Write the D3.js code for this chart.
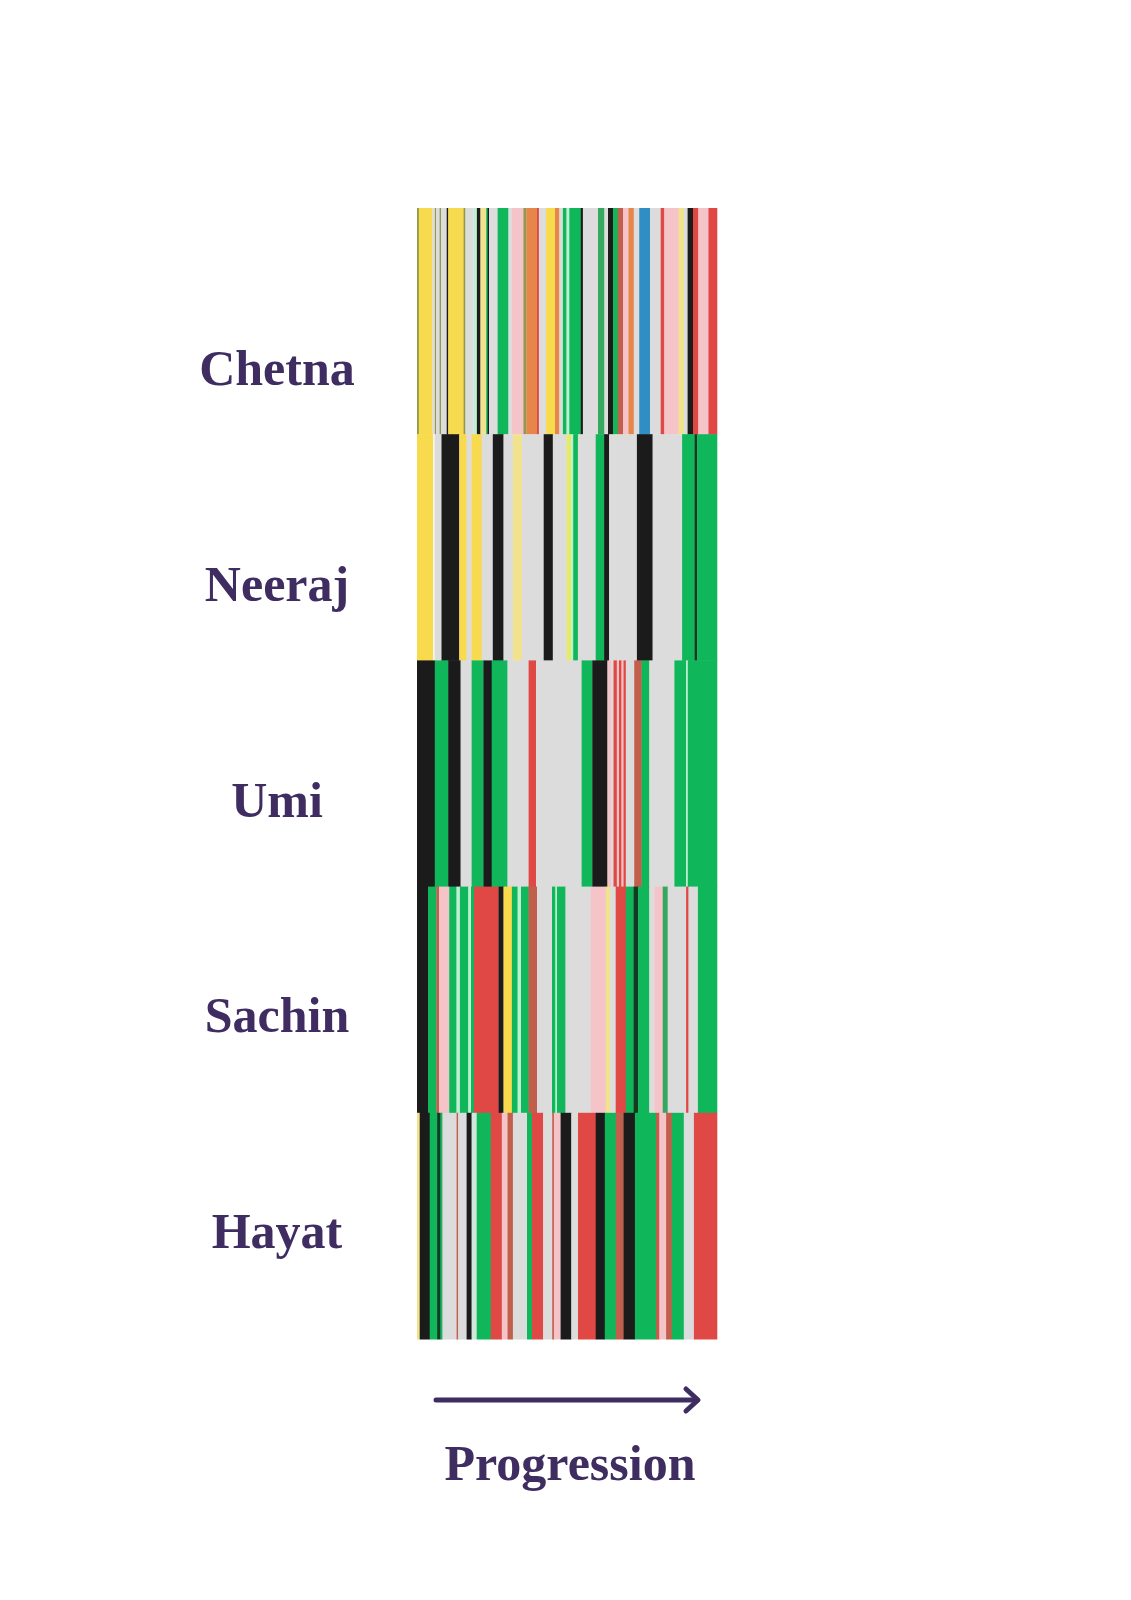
<!DOCTYPE html>
<html>

<head>
    <meta charset="UTF-8">
    <title>Progression</title>
    <style>
        body {
            margin: 0;
            background: #fff;
        }

        .label {
            font-family: 'Liberation Serif', serif;
            font-weight: bold;
            font-size: 50px;
            fill: #3f2d62;
            text-anchor: middle;
        }

        .arrow {
            fill: none;
            stroke: #3f2d62;
            stroke-width: 5px;
            stroke-linecap: round;
            stroke-linejoin: round;
        }
    </style>
</head>

<body>
    <div class="chart"></div>

    <script src="https://cdn.jsdelivr.net/npm/d3@7"></script>

    <script>
        // people, top to bottom
        const people = ['Chetna', 'Neeraj', 'Umi', 'Sachin', 'Hayat'];

        // each row: state of each segment, and how long it lasts along the progression
        const chetnaStates = ['olive', 'yellow', 'gray', 'olive', 'gray', 'olive', 'gray', 'black', 'yellow', 'olive',
            'gray', 'mint', 'black', 'paleyellow', 'green', 'black', 'gray', 'green', 'gray', 'pink', 'olive', 'orange',
            'red', 'gray', 'yellow', 'orange', 'gray', 'green', 'mint', 'green', 'black', 'gray', 'midgreen', 'gray',
            'black', 'green', 'brownred', 'pink', 'orange', 'gray', 'blue', 'gray', 'red', 'pink', 'paleyellow', 'gray',
            'black', 'red', 'pink', 'red'
        ];
        const chetnaLengths = [1.8, 13.6, 2.5, 1.1, 3.6, 1.4, 5.7, 1.5, 15.4, 1.8,
            7.9, 3.6, 3.5, 5.8, 1.4, 1.4, 8.6, 10.8, 3.6, 11.4, 2.9, 10.7,
            1.9, 7.1, 9, 4.3, 3.6, 3.6, 2.8, 11.5, 2.1, 15.1, 6.4, 3.6,
            5, 4.7, 5.3, 5.5, 5.3, 5.4, 10.8, 10.7, 3.6, 14.3, 5.4, 3.6,
            5.4, 5.3, 10.1, 8.6
        ];

        const neerajStates = ['yellow', 'white', 'gray', 'black', 'yellow', 'gray', 'yellow', 'gray', 'black', 'gray',
            'paleyellow', 'gray', 'black', 'gray', 'limeyellow', 'mint', 'green', 'gray', 'green', 'black', 'gray',
            'black', 'gray', 'green', 'darkgreen', 'green'
        ];
        const neerajLengths = [16.1, 1.7, 6.7, 17.7, 7.4, 5, 10.1, 11.1, 10.7, 9.4,
            9, 21.8, 9.1, 13.7, 4.7, 2, 4.7, 17.8, 8.4, 5, 27.8,
            15.7, 29.5, 12.4, 2.7, 19.8
        ];

        const umiStates = ['black', 'green', 'black', 'gray', 'green', 'black', 'green', 'gray', 'red', 'gray',
            'green', 'black', 'pink', 'gray', 'red', 'pink', 'red', 'pink', 'red', 'gray', 'brownred', 'green', 'gray',
            'green', 'mint', 'green'
        ];
        const umiLengths = [17.8, 13.4, 12.4, 11, 11.8, 8.3, 15.8, 21.1, 7.4, 45.6,
            10.7, 15.1, 3.4, 2.7, 3.3, 2.2, 2.5, 2, 2.3, 8.4, 7.4, 7.7, 25.1,
            11.7, 1.7, 29.2
        ];

        const sachinStates = ['black', 'green', 'brownred', 'pink', 'green', 'mint', 'green', 'mint', 'green', 'red',
            'black', 'yellow', 'green', 'mint', 'green', 'brownred', 'gray', 'green', 'mint', 'green', 'gray', 'pink',
            'paleyellow', 'gray', 'red', 'green', 'darkgreen', 'green', 'gray', 'pink', 'midgreen', 'gray', 'red',
            'gray', 'green'
        ];
        const sachinLengths = [11, 8.4, 2.7, 10.1, 7.3, 3.4, 8.4, 2.7, 3, 24.5,
            5, 8.4, 5.7, 3.4, 7.6, 8.4, 15, 3.4, 1.6, 8.5, 25.1, 15.1,
            4.3, 5.7, 10.1, 7.7, 4.7, 11.1, 5, 8.4, 5, 18.4, 2.4,
            9.4, 19.1
        ];

        const hayatStates = ['paleyellow', 'black', 'green', 'darkgreen', 'green', 'gray', 'brownred', 'gray', 'black',
            'mintgray', 'green', 'red', 'pink', 'brownred', 'gray', 'green', 'red', 'gray', 'brownred', 'pink', 'black',
            'gray', 'red', 'black', 'green', 'brownred', 'black', 'green', 'brownred', 'pink', 'brownred', 'green',
            'gray', 'red'
        ];
        const hayatLengths = [2.7, 10, 7.4, 3.4, 2, 14.1, 1.6, 8.4, 5, 5.1,
            14.1, 11, 5.7, 5.4, 14.1, 5, 11.1, 9.1, 1.7, 6.7, 10.7,
            6.7, 17.7, 9.1, 11, 7.7, 11.4, 21.1, 3.4, 6.7, 5.7, 12,
            10.1, 23.1
        ];

        const rows = [
            [chetnaStates, chetnaLengths],
            [neerajStates, neerajLengths],
            [umiStates, umiLengths],
            [sachinStates, sachinLengths],
            [hayatStates, hayatLengths]
        ];

        const stateNames = ['yellow', 'paleyellow', 'limeyellow', 'black', 'green', 'midgreen', 'darkgreen', 'mint',
            'mintgray', 'gray', 'white', 'red', 'brownred', 'pink', 'orange', 'olive', 'blue'
        ];
        const stateColours = ['#f7da4e', '#f1e38e', '#e3ec6a', '#1b1b1b', '#0fb75a', '#35a85f', '#103d22', '#bfefd3',
            '#d3e6da', '#dcdcdc', '#f6f6ee', '#e04845', '#c25e4c', '#f5c4c8', '#e6864a', '#8f9a4e', '#2f8ec3'
        ];

        draw();

        function draw() {
            const svg = d3.select('.chart')
                .append('svg')
                .attr('width', 1131)
                .attr('height', 1600);

            const x = d3.scaleLinear()
                .domain([0, 300])
                .range([417, 717]);

            const y = d3.scaleBand()
                .domain(people)
                .range([208, 1339]);

            const labelY = d3.scalePoint()
                .domain(people)
                .range([385, 1248]);

            const colour = d3.scaleOrdinal()
                .domain(stateNames)
                .range(stateColours);

            // turn each row into segments with a start and end
            const segments = [];
            rows.forEach((row, i) => {
                let start = 0;
                row[0].forEach((state, j) => {
                    segments.push({
                        person: people[i],
                        state: state,
                        start: start,
                        end: start + row[1][j]
                    });
                    start += row[1][j];
                });
            });

            svg.append('g')
                .selectAll('rect')
                .data(segments)
                .enter()
                .append('rect')
                .attr('x', d => x(d.start))
                .attr('width', d => x(d.end) - x(d.start) + 0.3)
                .attr('y', d => y(d.person))
                .attr('height', y.bandwidth() + 0.5)
                .attr('fill', d => colour(d.state));

            svg.append('g')
                .selectAll('text')
                .data(people)
                .enter()
                .append('text')
                .attr('class', 'label')
                .attr('x', 277)
                .attr('y', d => labelY(d))
                .text(d => d);

            // progression arrow
            const arrowY = 1400;
            svg.append('line')
                .attr('class', 'arrow')
                .attr('x1', x(19))
                .attr('x2', x(280))
                .attr('y1', arrowY)
                .attr('y2', arrowY);

            svg.append('path')
                .attr('class', 'arrow')
                .attr('d', `M${ x(269) },${ arrowY - 11 }L${ x(281) },${ arrowY }L${ x(269) },${ arrowY + 11 }`);

            svg.append('text')
                .attr('class', 'label')
                .attr('x', x(153))
                .attr('y', 1480)
                .text('Progression');
        }
    </script>
</body>

</html>
